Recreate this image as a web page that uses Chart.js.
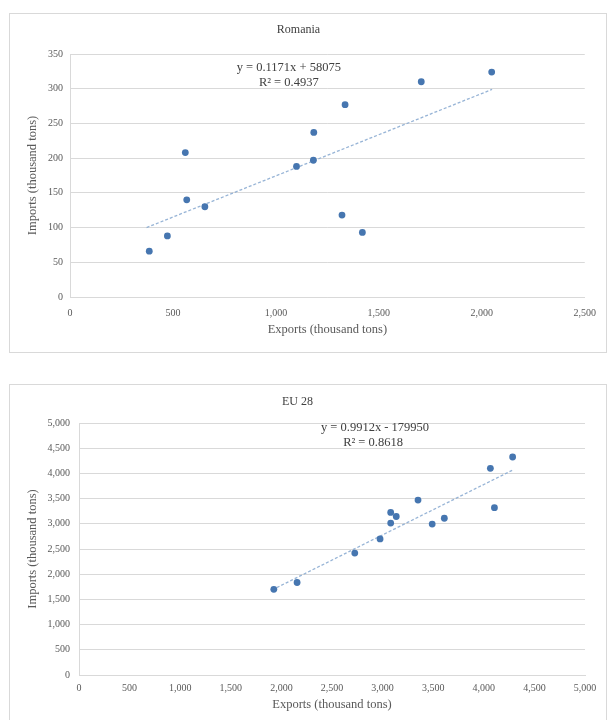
<!DOCTYPE html>
<html><head><meta charset="utf-8">
<script src="https://cdn.jsdelivr.net/npm/chart.js@4.4.1/dist/chart.umd.min.js"></script>
<style>
html,body{margin:0;padding:0;background:#fff;width:608px;height:720px;overflow:hidden}
.frame{position:absolute;border:1px solid #d9d9d9;background:#fff}
#f1{left:9px;top:13px;width:596px;height:338px}
#f2{left:9px;top:384px;width:596px;height:335px}
canvas{display:block}
</style></head><body>
<div class="frame" id="f1"><canvas id="c1" width="596" height="338"></canvas></div>
<div class="frame" id="f2"><canvas id="c2" width="596" height="335"></canvas></div>
<script>
// ---- Romania ----
const roTitle = 'Romania';
const roExports = [385, 473, 560, 567, 655, 1100, 1184, 1182, 1336, 1321, 1420, 1706, 2048];
const roImports = [66, 88, 208, 140, 130, 188, 237, 197, 277, 118, 93, 310, 324];
const roTrendX = [372, 2050];
const roTrendY = [100, 299];
const roEquation = ['y = 0.1171x + 58075', 'R\u00B2 = 0.4937'];
const roXTicks = [0, 500, 1000, 1500, 2000, 2500];
const roYTicks = [0, 50, 100, 150, 200, 250, 300, 350];

// ---- EU 28 ----
const euTitle = 'EU 28';
const euExports = [1925, 2155, 2725, 2975, 3080, 3080, 3135, 3350, 3490, 3610, 4065, 4105, 4285];
const euImports = [1700, 1835, 2420, 2700, 3225, 3015, 3145, 3470, 2995, 3110, 4100, 3320, 4325];
const euTrendX = [1910, 4280];
const euTrendY = [1690, 4060];
const euEquation = ['y = 0.9912x - 179950', 'R\u00B2 = 0.8618'];
const euXTicks = [0, 500, 1000, 1500, 2000, 2500, 3000, 3500, 4000, 4500, 5000];
const euYTicks = [0, 500, 1000, 1500, 2000, 2500, 3000, 3500, 4000, 4500, 5000];

const xLabel = 'Exports (thousand tons)';
const yLabel = 'Imports (thousand tons)';

const SERIF = "'Liberation Serif','Times New Roman',serif";
const TXT = '#595959';
const GRID = '#d9d9d9';
const PT = '#4676B0';

const eqPlugin = {
  id: 'eqn',
  afterDatasetsDraw(chart, args, opts) {
    const a = chart.chartArea, ctx = chart.ctx;
    ctx.save();
    ctx.fillStyle = '#404040';
    ctx.font = '12.5px ' + SERIF;
    ctx.textAlign = 'center';
    ctx.textBaseline = 'middle';
    const x = a.left + opts.fx * (a.right - a.left);
    const y = a.top + opts.fy * (a.bottom - a.top);
    opts.lines.forEach((t, i) => ctx.fillText(t, x + (opts.dx[i] || 0), y + i * opts.dy));
    ctx.restore();
  }
};

function fmt(v) { return Number(v).toLocaleString('en-US'); }

function makeChart(id, L) {
  const pts = L.xs.map((x, i) => ({x: x, y: L.ys[i]}));
  const trend = L.tx.map((x, i) => ({x: x, y: L.ty[i]}));
  new Chart(document.getElementById(id), {
    type: 'scatter',
    data: {datasets: [
      {data: trend, showLine: true, borderColor: 'rgba(140,172,210,0.9)', borderWidth: 1.3,
       borderDash: [3, 2], pointRadius: 0, fill: false, order: 2},
      {data: pts, pointRadius: 3.4, backgroundColor: PT, borderColor: PT, borderWidth: 0, order: 1}
    ]},
    plugins: [eqPlugin],
    options: {
      responsive: false, animation: false, devicePixelRatio: 1,
      layout: {padding: {left: 0, right: L.padR, top: 0, bottom: 0}},
      plugins: {
        legend: {display: false}, tooltip: {enabled: false},
        title: {display: true, text: L.title, color: '#404040',
                font: {family: SERIF, size: 12, weight: 'normal'},
                padding: {top: L.tpt, bottom: L.tpb}},
        eqn: {lines: L.eq, fx: L.efx, fy: L.efy, dy: 14.5, dx: L.edx}
      },
      scales: {
        x: {type: 'linear', min: L.xt[0], max: L.xt[L.xt.length - 1],
            afterBuildTicks: s => { s.ticks = L.xt.map(v => ({value: v})); },
            ticks: {color: TXT, font: {family: SERIF, size: 10}, padding: L.xpad,
                    maxRotation: 0, autoSkip: false, callback: v => fmt(v)},
            grid: {display: false, drawTicks: false},
            border: {display: true, color: GRID},
            title: {display: true, text: xLabel, color: TXT, font: {family: SERIF, size: 12.5},
                    padding: {top: 0, bottom: L.xtb}},
            afterFit: s => { s.height = L.xh; }},
        y: {type: 'linear', min: L.yt[0], max: L.yt[L.yt.length - 1],
            afterBuildTicks: s => { s.ticks = L.yt.map(v => ({value: v})); },
            ticks: {color: TXT, font: {family: SERIF, size: 10}, padding: L.ypad,
                    autoSkip: false, callback: v => fmt(v)},
            grid: {color: GRID, drawTicks: false, lineWidth: 1},
            border: {display: true, color: GRID},
            title: {display: true, text: yLabel, color: TXT, font: {family: SERIF, size: 12.5},
                    padding: {top: 15.5, bottom: 0}},
            afterFit: s => { s.width = L.yw; }}
      }
    }
  });
}

makeChart('c1', {title: roTitle, xs: roExports, ys: roImports, tx: roTrendX, ty: roTrendY,
  eq: roEquation, xt: roXTicks, yt: roYTicks,
  padR: 19, tpt: 8.8, tpb: 16.8, xh: 55, xpad: 10, xtb: 14.5, yw: 60, ypad: 7,
  efx: 0.425, efy: 0.058, edx: [0, 0]});

makeChart('c2', {title: euTitle, xs: euExports, ys: euImports, tx: euTrendX, ty: euTrendY,
  eq: euEquation, xt: euXTicks, yt: euYTicks,
  padR: 21, tpt: 9.8, tpb: 13.8, xh: 45, xpad: 7, xtb: 7.5, yw: 69, ypad: 9,
  efx: 0.585, efy: 0.02, edx: [0, -2]});
</script>
</body></html>
